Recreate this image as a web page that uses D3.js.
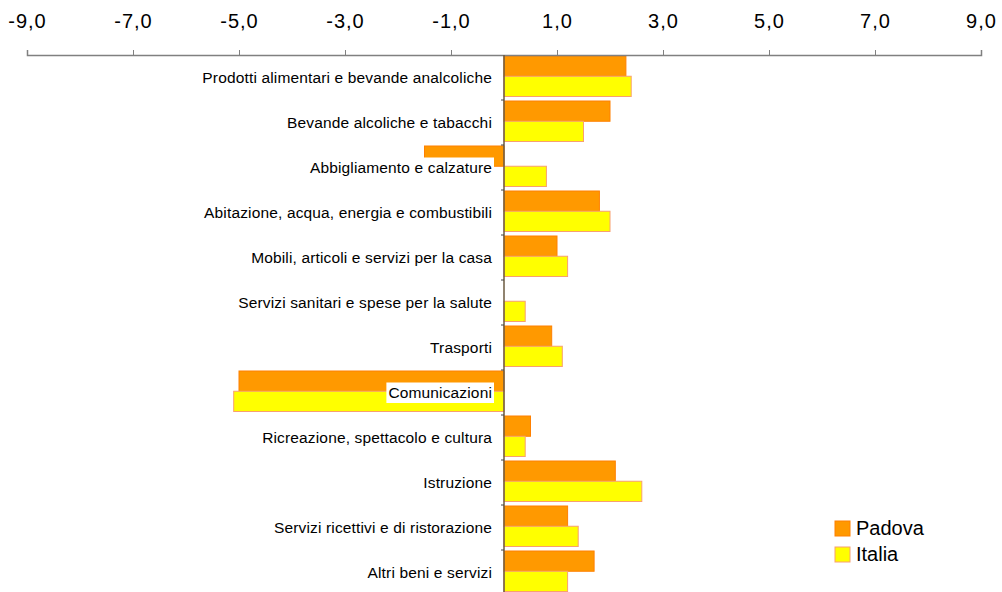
<!DOCTYPE html>
<html>
<head>
<meta charset="utf-8">
<script src="https://cdn.jsdelivr.net/npm/d3@7.9.0/dist/d3.min.js"></script>
<style>
  body { margin: 0; background: #fff; }
  svg { display: block; font-family: "Liberation Sans", Arial, sans-serif; }
</style>
</head>
<body>
<div id="chart"></div>
<script>
// --- Data ---
const categories = [
  "Prodotti alimentari e bevande analcoliche",
  "Bevande alcoliche e tabacchi",
  "Abbigliamento e calzature",
  "Abitazione, acqua, energia e combustibili",
  "Mobili, articoli e servizi per la casa",
  "Servizi sanitari e spese per la salute",
  "Trasporti",
  "Comunicazioni",
  "Ricreazione, spettacolo e cultura",
  "Istruzione",
  "Servizi ricettivi e di ristorazione",
  "Altri beni e servizi"
];
const series = ["Padova", "Italia"];
const padova = [2.3, 2.0, -1.5, 1.8, 1.0, 0.0, 0.9, -5.0, 0.5, 2.1, 1.2, 1.7];
const italia = [2.4, 1.5, 0.8, 2.0, 1.2, 0.4, 1.1, -5.1, 0.4, 2.6, 1.4, 1.2];
const xTicks = [-9, -7, -5, -3, -1, 1, 3, 5, 7, 9];

// --- Setup ---
const W = 1002;
const H = 592;
const COLORS = { Padova: "#FF9900", Italia: "#FFFF00" };
const STROKES = { Padova: "#FF8000", Italia: "#F8A070" };

const x = d3.scaleLinear().domain([-9, 9]).range([27, 981]);
const y = d3.scaleBand().domain(categories).range([55, 595]);
const ySub = d3.scaleBand().domain(series).range([1, 41.5]);

// Italian style numbers: comma decimal, plain hyphen for minus
const locale = d3.formatLocale({ decimal: ",", thousands: ".", grouping: [3], currency: ["", "€"], minus: "-" });
const fmt = locale.format(".1f");

const svg = d3.select("#chart").append("svg").attr("width", W).attr("height", H);

// bars
const rows = categories.map((c, i) => ({ cat: c, Padova: padova[i], Italia: italia[i] }));
const groups = svg.append("g")
  .selectAll("g")
  .data(rows)
  .join("g")
  .attr("transform", d => `translate(0,${y(d.cat)})`);

groups.selectAll("rect")
  .data(d => series.map(s => ({ s, v: d[s] })).filter(e => e.v !== 0))
  .join("rect")
  .attr("x", e => x(Math.min(0, e.v)))
  .attr("width", e => Math.abs(x(e.v) - x(0)))
  .attr("y", e => ySub(e.s))
  .attr("height", ySub.bandwidth())
  .attr("fill", e => COLORS[e.s])
  .attr("stroke", e => STROKES[e.s])
  .attr("stroke-width", 1);

// top axis
const xAxis = svg.append("g")
  .attr("transform", `translate(0,55)`)
  .call(d3.axisTop(x).tickValues(xTicks).tickFormat(fmt).tickSize(5).tickPadding(22));
xAxis.select(".domain").attr("stroke", "#808080").attr("stroke-width", 1.5);
xAxis.selectAll(".tick line").attr("stroke", "#808080");
xAxis.selectAll("text")
  .attr("font-size", 20)
  .attr("letter-spacing", 1)
  .attr("fill", "#000")
  .attr("font-family", "'Liberation Sans', Arial, sans-serif");

// category axis at zero
const catAxis = svg.append("g").attr("transform", `translate(${x(0)},0)`);
catAxis.append("line")
  .attr("y1", 55).attr("y2", H)
  .attr("stroke", "#6b5a40").attr("stroke-width", 1.5);
catAxis.selectAll("line.tk")
  .data(categories.slice(1))
  .join("line")
  .attr("class", "tk")
  .attr("x1", -3).attr("x2", 0)
  .attr("y1", d => y(d)).attr("y2", d => y(d))
  .attr("stroke", "#444");

// labels with white background
const labels = svg.append("g")
  .selectAll("g")
  .data(categories)
  .join("g")
  .attr("transform", d => `translate(492,${y(d) + y.bandwidth() / 2})`);

labels.append("text")
  .attr("text-anchor", "end")
  .attr("dy", "0.35em")
  .attr("font-size", 15.5)
  .attr("letter-spacing", 0.15)
  .attr("fill", "#000")
  .text(d => d);

labels.each(function () {
  const g = d3.select(this);
  const bb = g.select("text").node().getBBox();
  g.insert("rect", "text")
    .attr("x", bb.x - 2)
    .attr("y", -10)
    .attr("width", bb.width + 4)
    .attr("height", 20.5)
    .attr("fill", "#fff");
});

// legend
const legend = svg.append("g").attr("transform", "translate(835,521)");
legend.selectAll("rect")
  .data(series)
  .join("rect")
  .attr("x", 0)
  .attr("y", (d, i) => i * 26)
  .attr("width", 15)
  .attr("height", 15)
  .attr("fill", d => COLORS[d])
  .attr("stroke", d => STROKES[d]);
legend.selectAll("text")
  .data(series)
  .join("text")
  .attr("x", 21)
  .attr("y", (d, i) => i * 26 + 7)
  .attr("dy", "0.35em")
  .attr("font-size", 20)
  .attr("fill", "#000")
  .text(d => d);
</script>
</body>
</html>
